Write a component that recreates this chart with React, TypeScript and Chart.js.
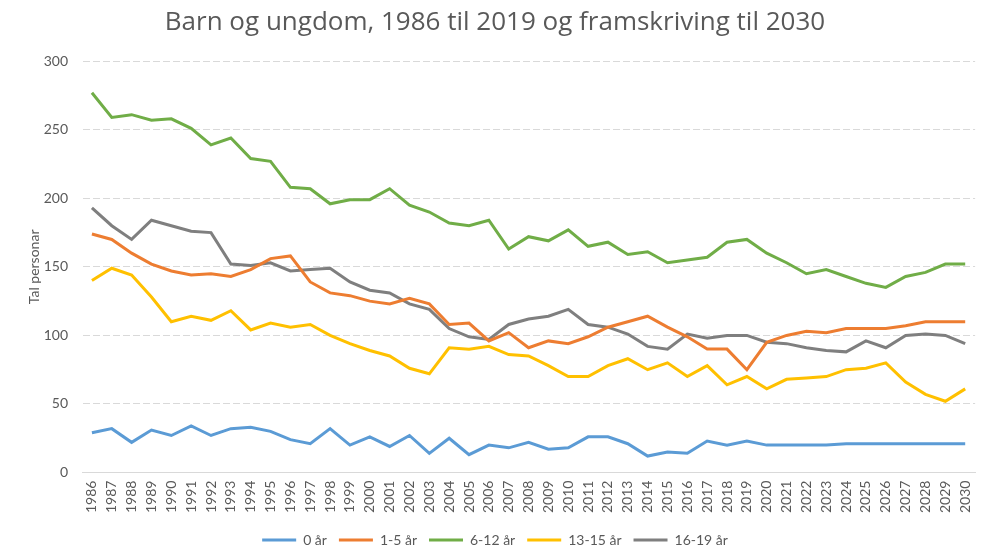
import React, { useEffect, useRef } from "react";
import { Chart, registerables } from "chart.js";

Chart.register(...registerables);

const years = [
  "1986","1987","1988","1989","1990","1991","1992","1993","1994","1995",
  "1996","1997","1998","1999","2000","2001","2002","2003","2004","2005",
  "2006","2007","2008","2009","2010","2011","2012","2013","2014","2015",
  "2016","2017","2018","2019","2020","2021","2022","2023","2024","2025",
  "2026","2027","2028","2029","2030",
];

const age0 = [
  29, 32, 22, 31, 27, 34, 27, 32, 33, 30,
  24, 21, 32, 20, 26, 19, 27, 14, 25, 13,
  20, 18, 22, 17, 18, 26, 26, 21, 12, 15,
  14, 23, 20, 23, 20, 20, 20, 20, 21, 21,
  21, 21, 21, 21, 21,
];

const age1to5 = [
  174, 170, 160, 152, 147, 144, 145, 143, 148, 156,
  158, 139, 131, 129, 125, 123, 127, 123, 108, 109,
  96, 102, 91, 96, 94, 99, 106, 110, 114, 106,
  99, 90, 90, 75, 95, 100, 103, 102, 105, 105,
  105, 107, 110, 110, 110,
];

const age6to12 = [
  277, 259, 261, 257, 258, 251, 239, 244, 229, 227,
  208, 207, 196, 199, 199, 207, 195, 190, 182, 180,
  184, 163, 172, 169, 177, 165, 168, 159, 161, 153,
  155, 157, 168, 170, 160, 153, 145, 148, 143, 138,
  135, 143, 146, 152, 152,
];

const age13to15 = [
  140, 149, 144, 128, 110, 114, 111, 118, 104, 109,
  106, 108, 100, 94, 89, 85, 76, 72, 91, 90,
  92, 86, 85, 78, 70, 70, 78, 83, 75, 80,
  70, 78, 64, 70, 61, 68, 69, 70, 75, 76,
  80, 66, 57, 52, 61,
];

const age16to19 = [
  193, 180, 170, 184, 180, 176, 175, 152, 151, 153,
  147, 148, 149, 139, 133, 131, 123, 119, 105, 99,
  97, 108, 112, 114, 119, 108, 106, 101, 92, 90,
  101, 98, 100, 100, 95, 94, 91, 89, 88, 96,
  91, 100, 101, 100, 94,
];

const seriesNames = ["0 år", "1-5 år", "6-12 år", "13-15 år", "16-19 år"];
const seriesColors = ["#5B9BD5", "#ED7D31", "#70AD47", "#FFC000", "#7F7F7F"];
const yTicks = [0, 50, 100, 150, 200, 250, 300];

const FONT = "Lato, 'Open Sans', sans-serif";
const TEXT = "#595959";

export default function App() {
  const ref = useRef<HTMLCanvasElement | null>(null);

  useEffect(() => {
    document.body.style.margin = "0";
    const values = [age0, age1to5, age6to12, age13to15, age16to19];
    const chart = new Chart(ref.current as HTMLCanvasElement, {
      type: "line",
      data: {
        labels: years,
        datasets: values.map((v, i) => ({
          label: seriesNames[i],
          data: v,
          borderColor: seriesColors[i],
          backgroundColor: seriesColors[i],
          borderWidth: 3,
          pointRadius: 0,
          tension: 0,
          fill: false,
        })),
      },
      options: {
        animation: false,
        responsive: false,
        maintainAspectRatio: false,
        layout: { padding: { left: 0, right: 0, top: 0, bottom: -9 } },
        plugins: {
          title: {
            display: true,
            text: "Barn og ungdom, 1986 til 2019 og framskriving til 2030",
            color: TEXT,
            font: { family: "'Open Sans', Lato, sans-serif", size: 26, weight: "normal" },
            padding: { top: 7, bottom: 23 },
          },
          legend: {
            position: "bottom",
            labels: {
              usePointStyle: true,
              pointStyle: "line",
              pointStyleWidth: 34,
              color: TEXT,
              font: { family: FONT, size: 14 },
              padding: 12,
            },
          },
          tooltip: { enabled: false },
        },
        scales: {
          x: {
            offset: true,
            grid: { display: false, drawTicks: false },
            border: { display: true, color: "#D9D9D9", width: 1 },
            ticks: {
              autoSkip: false,
              minRotation: 90,
              maxRotation: 90,
              padding: 8,
              color: TEXT,
              font: { family: FONT, size: 14 },
            },
          },
          y: {
            min: 0,
            max: 300,
            afterFit: (s: any) => { s.width = 82; },
            afterBuildTicks: (s: any) => { s.ticks = yTicks.map((v) => ({ value: v })); },
            grid: { color: (c: any) => (c.tick && c.tick.value === 0 ? "rgba(0,0,0,0)" : "#D9D9D9"), drawTicks: false },
            border: { display: true, color: "rgba(0,0,0,0)", dash: [7, 3] },
            ticks: {
              padding: 14,
              color: TEXT,
              font: { family: FONT, size: 14 },
            },
            title: {
              display: true,
              text: "Tal personar",
              color: TEXT,
              font: { family: FONT, size: 14 },
              padding: { top: 26, bottom: 0 },
            },
          },
        },
      },
    });
    return () => chart.destroy();
  }, []);

  return (
    <div style={{ position: "absolute", left: 0, top: 0, width: 990, height: 548 }}>
      <canvas ref={ref} width={990} height={548} style={{ width: 990, height: 548 }} />
    </div>
  );
}
